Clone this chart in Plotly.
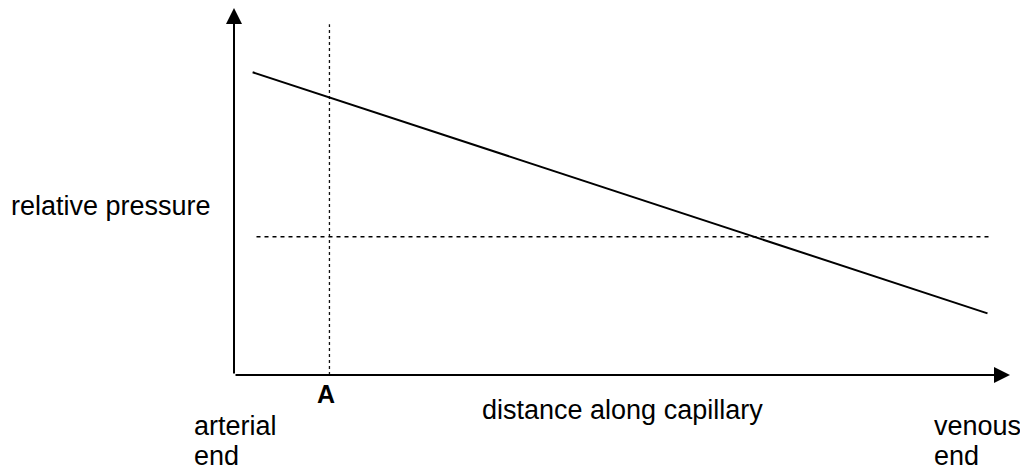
import plotly.graph_objects as go

# 数据（相对单位）
distance = [2.4, 97.1]
blood_pressure = [82.5, 16.8]
osmotic_distance = [2.9, 97.4]
osmotic_pressure = [37.7, 37.7]
point_a = 12.3
point_a_top = 95.6
axis_max = 100

FONT = 'Liberation Sans, Arial, sans-serif'

fig = go.Figure()

# 垂直线 A
fig.add_trace(go.Scatter(
    x=[point_a, point_a], y=[0, point_a_top],
    mode='lines', line=dict(color='#111111', width=1.3, dash='dot'),
    hoverinfo='skip'
))

# 血压（实线）
fig.add_trace(go.Scatter(
    x=distance, y=blood_pressure,
    mode='lines', line=dict(color='black', width=2),
    hoverinfo='skip'
))

# 渗透压（虚线）
fig.add_trace(go.Scatter(
    x=osmotic_distance, y=osmotic_pressure,
    mode='lines', line=dict(color='black', width=1.5, dash='4px,4px'),
    hoverinfo='skip'
))

# 坐标轴箭头
arrow = dict(showarrow=True, arrowhead=2, arrowsize=1.6, arrowwidth=2,
             arrowcolor='black', axref='x', ayref='y', text='',
             xref='x', yref='y', standoff=0)
fig.add_annotation(x=axis_max, y=0, ax=0, ay=0, **arrow)
fig.add_annotation(x=0, y=axis_max, ax=0, ay=0, **arrow)

# 文字标签（paper 坐标，绘图区外）
text_font = dict(family=FONT, size=27, color='black')
labels = [
    ('relative pressure', -0.027, 0.46, 'right'),
    ('distance along capillary', 0.50, -0.095, 'center'),
    ('arterial', -0.054, -0.138, 'left'),
    ('end', -0.054, -0.220, 'left'),
    ('venous', 0.900, -0.138, 'left'),
    ('end', 0.900, -0.220, 'left'),
]
for txt, x, y, anchor in labels:
    fig.add_annotation(x=x, y=y, xref='paper', yref='paper', text=txt,
                       showarrow=False, xanchor=anchor, yanchor='middle',
                       font=text_font)

fig.add_annotation(x=(point_a - 0.4) / 100, y=-0.052, xref='paper', yref='paper',
                   text='<b>A</b>', showarrow=False,
                   xanchor='center', yanchor='middle',
                   font=dict(family=FONT, size=25, color='black'))

axis_style = dict(showgrid=False, zeroline=False, showticklabels=False,
                  showline=False, ticks='')
fig.update_xaxes(range=[0, 100], **axis_style)
fig.update_yaxes(range=[0, 100], **axis_style)

fig.update_layout(
    width=1028, height=470,
    margin=dict(l=226, r=26, t=0, b=103),
    showlegend=False,
    paper_bgcolor='white',
    plot_bgcolor='white',
)

fig.write_html("out.html")
